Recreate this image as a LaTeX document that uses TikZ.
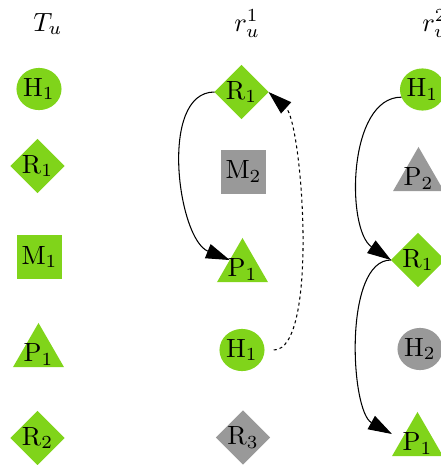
\documentclass[tikz,border=0pt]{standalone}
\usetikzlibrary{shapes.geometric,arrows.meta,calc}
\definecolor{lgreen}{RGB}{128,212,26}
\definecolor{lgrey}{RGB}{153,153,153}
\newcommand{\tritext}[1]{\smash{\makebox[0pt]{\raisebox{-3.3pt}{#1}}}}
\begin{document}
\begin{tikzpicture}[x=0.3795pt,y=0.3795pt,
  basic/.style={inner sep=0pt, outer sep=0pt},
  ell/.style={basic, ellipse, minimum width=17.1pt, minimum height=16pt},
  dia/.style={basic, diamond, minimum width=20.5pt, minimum height=20.5pt},
  sq/.style={basic, rectangle, minimum width=17.1pt, minimum height=16.7pt},
  tri/.style={basic, regular polygon, regular polygon sides=3, minimum size=22.35pt},
  G/.style={fill=lgreen}, Y/.style={fill=lgrey},
  arr/.style={-{Triangle[length=9pt,width=5.7pt]}, line width=0.4pt},
  dsh/.style={dash pattern=on 1.15pt off 1.15pt}]
\useasboundingbox (0,0) rectangle (440,-465);
% titles
\node[anchor=base west] (Tu) at (24,-31) {$T_u$};
\node[anchor=base west] (r1) at (225,-31) {$r_u^1$};
\node[anchor=base west] (r2) at (413,-31) {$r_u^2$};
% column 1
\node[ell,G] (H1a) at (39,-89) {H$_1$};
\node[dia,G] (R1a) at (37.5,-166) {R$_1$};
\node[sq,G]  (M1a) at (39.5,-257) {M$_1$};
\node[tri,G] (P1a) at (38.5,-352.4) {\tritext{P$_1$}};
\node[dia,G] (R2a) at (37.5,-438) {R$_2$};
% column 2
\node[dia,G] (R1b) at (241.5,-92) {R$_1$};
\node[sq,Y]  (M2b) at (243.5,-171.5) {M$_2$};
\node[tri,G] (P1b) at (242.5,-267.4) {\tritext{P$_1$}};
\node[ell,G] (H1b) at (242,-350) {H$_1$};
\node[dia,Y] (R3b) at (243,-437.5) {R$_3$};
% column 3
\node[ell,G] (H1c) at (422.5,-89.5) {H$_1$};
\node[tri,Y] (P2c) at (418.5,-176.4) {\tritext{P$_2$}};
\node[dia,G] (R1c) at (418,-260) {R$_1$};
\node[ell,Y] (H2c) at (420,-349) {H$_2$};
\node[tri,G] (P1c) at (417.5,-441.4) {\tritext{P$_1$}};
% connectors
\draw[arr] (R1b.west) to[out=180,in=158,looseness=0.85] ($(P1b.corner 1)!0.5!(P1b.corner 2)$);
\draw[arr,dsh] ([xshift=3.5pt]H1b.east) to[out=0,in=-42,looseness=0.45] (R1b.east);
\draw[arr] (H1c.200) to[out=180,in=146,looseness=0.85] (R1c.west);
\draw[arr] (R1c.west) to[out=180,in=151,looseness=0.7] (P1c.corner 2 |- {$(P1c.corner 1)!0.5!(P1c.corner 2)$});
\end{tikzpicture}
\end{document}
